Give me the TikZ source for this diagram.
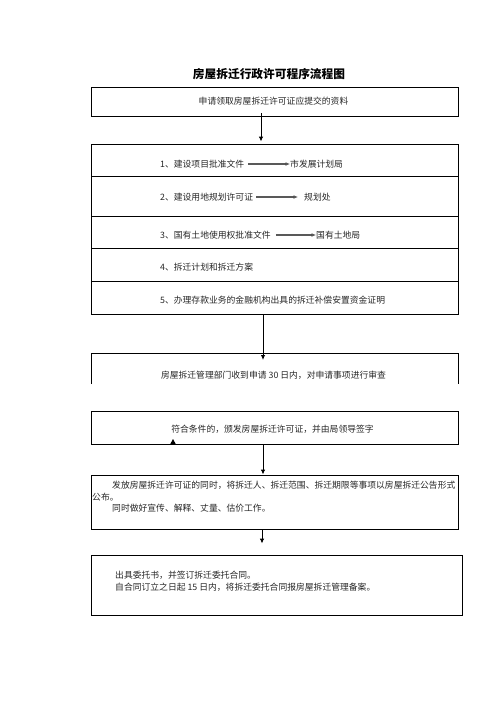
\documentclass[tikz,border=0pt]{standalone}
\usepackage{fontspec}
\setmainfont{Noto Sans CJK SC}
\usetikzlibrary{arrows.meta}
\begin{document}
\begin{tikzpicture}[x=1pt,y=-1pt,
  txt/.style={inner sep=0pt, font=\fontsize{8.8}{10}\selectfont, text=black!85},
  boxline/.style={draw=black, line width=0.9pt},
  flow/.style={draw=black, line width=0.9pt, -{Latex[length=5pt,width=4.5pt]}},
  rowarrow/.style={draw=black!65, line width=1.3pt, -{Latex[length=4.5pt,width=4pt,fill=black]}}
]
\useasboundingbox (0,0) rectangle (496,702);
% title
\node[inner sep=0pt, font=\fontsize{11.7}{13}\selectfont\bfseries] (title) at (269,74) {房屋拆迁行政许可程序流程图};
% box 1
\node[boxline, minimum width=367pt, minimum height=29pt, inner sep=0pt] (b1) at (274.5,101.5) {};
\node[txt] (t0) at (273.5,101.5) {申请领取房屋拆迁许可证应提交的资料};
% group rows
\node[boxline, minimum width=367pt, minimum height=32pt, inner sep=0pt] (r1) at (274.5,160) {};
\node[boxline, minimum width=367pt, minimum height=40pt, inner sep=0pt] (r2) at (274.5,196) {};
\node[boxline, minimum width=367pt, minimum height=32pt, inner sep=0pt] (r3) at (274.5,232) {};
\node[boxline, minimum width=367pt, minimum height=33pt, inner sep=0pt] (r4) at (274.5,264.5) {};
\node[boxline, minimum width=367pt, minimum height=33pt, inner sep=0pt] (r5) at (274.5,297.5) {};
\node[txt, anchor=west] (t1) at (160,164) {1、建设项目批准文件};
\node[txt, anchor=west] (d1) at (290,164) {市发展计划局};
\node[txt, anchor=west] (t2) at (160,197) {2、建设用地规划许可证};
\node[txt, anchor=west] (d2) at (304,197) {规划处};
\node[txt, anchor=west] (t3) at (160,235) {3、国有土地使用权批准文件};
\node[txt, anchor=west] (d3) at (316,235) {国有土地局};
\node[txt, anchor=west] (t4) at (160,267) {4、拆迁计划和拆迁方案};
\node[txt, anchor=west] (t5) at (160,300) {5、办理存款业务的金融机构出具的拆迁补偿安置资金证明};
\draw[rowarrow] ([xshift=4pt]t1.east) -- (d1.west);
\draw[rowarrow] ([xshift=3pt]t2.east) -- ([xshift=-6pt]d2.west);
\draw[rowarrow] ([xshift=5pt]t3.east) -- (d3.west);
% open review box
\coordinate (c1) at (91,384);
\coordinate (c2) at (91,353);
\coordinate (c3) at (458,353);
\coordinate (c4) at (458,384);
\draw[boxline] (c1) -- (c2) -- (c3) -- (c4);
\node[txt] (t6) at (273.5,375) {房屋拆迁管理部门收到申请 30 日内，对申请事项进行审查};
% permit box
\node[boxline, minimum width=367pt, minimum height=33pt, inner sep=0pt] (b3) at (274.5,427.5) {};
\node[txt] (t7) at (272.5,429) {符合条件的，颁发房屋拆迁许可证，并由局领导签字};
\coordinate (m1) at (170,444.5);
\coordinate (m2) at (176,444.5);
\coordinate (m3) at (173,439);
\fill[black] (m1) -- (m2) -- (m3) -- cycle;
% publish box
\node[boxline, minimum width=367pt, minimum height=54pt, inner sep=0pt] (b4) at (274.5,502) {};
\node[txt, anchor=west] (t8) at (112,485) {发放房屋拆迁许可证的同时，将拆迁人、拆迁范围、拆迁期限等事项以房屋拆迁公告形式};
\node[txt, anchor=west] (t9) at (92,497) {公布。};
\node[txt, anchor=west] (t10) at (112,508.5) {同时做好宣传、解释、丈量、估价工作。};
% entrust box
\node[boxline, minimum width=371pt, minimum height=60pt, inner sep=0pt] (b5) at (276.5,585) {};
\node[txt, anchor=west] (t11) at (115,575.5) {出具委托书，并签订拆迁委托合同。};
\node[txt, anchor=west] (t12) at (115,587.5) {自合同订立之日起 15 日内，将拆迁委托合同报房屋拆迁管理备案。};
% flow arrows
\draw[flow] ([xshift=-13.5pt,yshift=3pt]b1.south) -- ([xshift=-13.5pt,yshift=2pt]r1.north);
\draw[flow] ([xshift=-11.5pt]r5.south) -- ([xshift=-11.5pt,yshift=-7pt]c2 -| r5.south);
\draw[flow] ([xshift=-11.5pt]b3.south) -- ([xshift=-11.5pt]b4.north);
\draw[flow] ([xshift=-12.5pt]b4.south) -- ([xshift=-14.5pt,yshift=11pt]b5.north);
\end{tikzpicture}
\end{document}
